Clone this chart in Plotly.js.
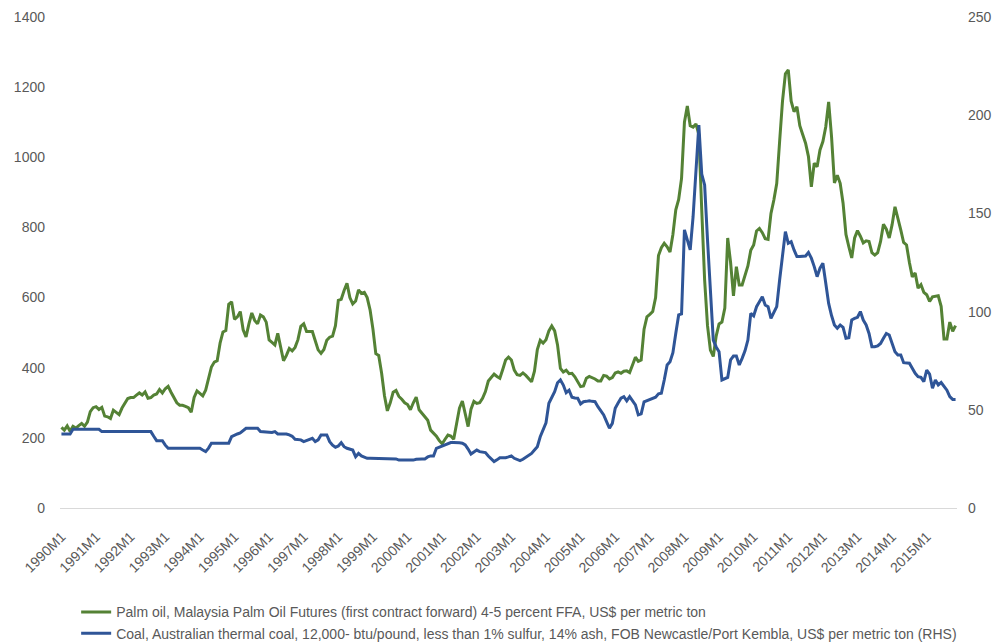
<!DOCTYPE html>
<html>
<head>
<meta charset="utf-8">
<script src="https://cdn.plot.ly/plotly-3.0.1.min.js"></script>
<style>
  html, body { margin: 0; padding: 0; background: #ffffff; }
  #chart { width: 999px; height: 643px; }
</style>
</head>
<body>
<div id="chart"></div>
<script>
// Monthly periods 1990M1 .. 2015M11
const firstYear = 1990;
const lastYear = 2015;
const lastMonth = 11;

// Palm oil, US$ per metric ton (left axis), one row per year
const palmOil = [
  230,222,234,219,233,228,235,241,233,245,275,286,   // 1990
  289,281,287,262,260,255,279,272,266,285,300,312,   // 1991
  315,315,322,328,322,331,313,315,322,325,338,328,   // 1992
  340,347,330,315,300,293,293,290,286,273,315,334,   // 1993
  328,320,336,367,402,416,420,470,502,506,581,588,   // 1994
  538,545,560,508,488,525,556,535,525,550,545,530,   // 1995
  479,472,465,498,460,420,435,455,448,458,480,518,   // 1996
  525,503,503,503,477,451,441,452,478,487,490,520,   // 1997
  592,595,620,641,600,582,590,622,612,615,600,565,   // 1998
  510,440,435,385,320,277,300,330,335,318,310,300,   // 1999
  295,280,300,316,280,270,260,250,222,214,205,192,   // 2000
  183,196,208,205,196,240,285,305,268,232,282,304,   // 2001
  298,300,313,332,362,371,382,375,370,395,422,430,   // 2002
  422,393,380,378,385,378,368,360,390,452,478,470,   // 2003
  480,505,519,505,465,398,388,393,383,384,374,360,   // 2004
  346,348,370,375,372,368,362,362,378,376,368,372,   // 2005
  385,388,384,390,391,386,408,430,418,422,510,545,   // 2006
  552,560,600,720,742,755,745,730,780,850,880,940,   // 2007
  1100,1146,1090,1086,1095,1065,850,650,520,450,432,490, // 2008
  525,530,570,770,700,605,688,636,636,660,690,735,   // 2009
  750,790,797,785,768,766,840,878,925,1045,1160,1238, // 2010
  1249,1160,1130,1144,1090,1065,1040,1002,916,983,973,1021, // 2011
  1045,1087,1158,1059,927,949,926,869,780,745,713,770, // 2012
  791,775,756,762,760,728,721,728,760,809,795,770,   // 2013
  808,859,821,793,757,750,700,659,670,627,637,615,   // 2014
  608,589,602,603,605,575,482,482,530,504,520        // 2015
];

// Coal, US$ per metric ton (right axis), one row per year
const coal = [
  37.7,37.7,37.7,37.7,40.1,40.1,40.1,40.1,40.1,40.1,40.1,40.1,   // 1990
  40.1,40.1,38.9,38.9,38.9,38.9,38.9,38.9,38.9,38.9,38.9,38.9,   // 1991
  38.9,38.9,38.9,38.9,38.9,38.9,38.9,38.9,36.5,34.3,34.3,34.3,   // 1992
  32.0,30.4,30.4,30.4,30.4,30.4,30.4,30.4,30.4,30.4,30.4,30.4,   // 1993
  30.4,29.5,28.7,30.5,33.0,33.0,33.0,33.0,33.0,33.0,33.0,36.3,   // 1994
  37.2,37.7,38.2,39.5,40.6,40.6,40.6,40.6,40.6,38.9,38.8,38.7,   // 1995
  38.6,38.5,38.9,37.7,37.7,37.7,37.7,37.2,36.5,35.0,35.0,34.7,   // 1996
  33.8,34.3,35.0,35.5,33.8,34.7,37.2,37.2,37.2,33.8,32.0,30.9,   // 1997
  31.6,33.3,31.2,30.4,30.0,29.5,26.1,27.8,26.5,26.0,25.3,25.3,   // 1998
  25.3,25.3,25.3,25.3,25.3,25.3,25.3,25.3,25.0,24.4,24.4,24.4,   // 1999
  24.4,24.4,24.4,24.8,25.0,25.0,25.0,26.0,26.5,26.5,30.4,31.0,   // 2000
  31.6,32.1,32.6,33.3,33.4,33.4,33.2,33.0,32.1,30.0,27.5,28.5,   // 2001
  29.5,28.7,28.5,28.2,26.5,24.8,23.6,24.5,25.6,25.6,25.6,26.0,   // 2002
  26.5,25.3,24.7,24.1,24.8,25.8,26.5,27.8,29.5,31.2,36.3,40.0,   // 2003
  43.4,53.3,56.0,59.2,63.8,65.2,62.6,58.7,60.0,56.4,56.0,55.9,   // 2004
  53.0,54.1,54.3,54.6,54.3,54.1,51.6,49.5,47.4,44.0,40.6,43.1,   // 2005
  50.8,53.5,55.9,56.7,54.6,56.7,54.5,52.5,47.4,47.9,54.1,54.6,   // 2006
  55.0,55.7,56.4,58.1,58.4,65.2,72.8,74.5,79.1,89.0,98.3,98.8,   // 2007
  141.6,136.5,131.4,148.3,173.8,195.0,170.0,164.5,136.5,111.0,85.5,82.0, // 2008
  79.6,65.2,65.8,66.5,75.4,77.4,77.4,72.8,76.2,80.0,85.5,99.1,   // 2009
  97.8,102.5,105.0,107.6,103.4,102.5,96.6,100.0,102.5,116.1,129.7,140.7, // 2010
  134.8,135.6,131.4,128.0,128.0,128.0,128.3,130.1,127.2,122.9,117.8,122.1, // 2011
  124.6,114.4,104.2,98.0,93.2,91.5,93.2,92.0,86.4,86.7,95.7,96.5, // 2012
  97.1,100.0,95.7,93.2,88.9,82.1,82.1,82.5,83.8,86.4,88.9,88.1,  // 2013
  83.8,79.6,77.9,77.9,74.0,73.8,73.7,71.1,68.6,66.9,66.5,64.4,   // 2014
  70.2,68.2,61.0,65.2,62.7,63.9,61.9,60.0,56.7,55.3,55.3         // 2015
];

const palmName = 'Palm oil, Malaysia Palm Oil Futures (first contract forward) 4-5 percent FFA, US$ per metric ton';
const coalName = 'Coal, Australian thermal coal, 12,000- btu/pound, less than 1% sulfur, 14% ash, FOB Newcastle/Port Kembla, US$ per metric ton (RHS)';

// Category labels
const periods = [];
for (let y = firstYear; y <= lastYear; y++) {
  const mMax = (y === lastYear) ? lastMonth : 12;
  for (let m = 1; m <= mMax; m++) periods.push(y + 'M' + m);
}
const tickLabels = periods.filter(p => /M1$/.test(p));

const txt = '#595959';
const fam = 'Liberation Sans, Arial, sans-serif';

const traces = [
  {
    x: periods, y: palmOil, name: palmName, type: 'scatter', mode: 'lines',
    line: { color: '#548235', width: 3 }, yaxis: 'y', legendgroup: 'a'
  },
  {
    x: periods, y: coal, name: coalName, type: 'scatter', mode: 'lines',
    line: { color: '#2F5597', width: 3 }, yaxis: 'y2', legendgroup: 'b'
  }
];

const layout = {
  width: 999, height: 643,
  margin: { l: 60, r: 42, t: 17, b: 135, autoexpand: false },
  paper_bgcolor: '#ffffff', plot_bgcolor: '#ffffff',
  font: { family: fam, size: 14, color: txt },
  showlegend: true,
  legend: {
    orientation: 'v', x: 0.018, xanchor: 'left', y: -0.18, yanchor: 'top',
    font: { family: fam, size: 14, color: txt },
    tracegroupgap: 0, itemwidth: 30
  },
  xaxis: {
    type: 'category', categoryorder: 'array', categoryarray: periods,
    range: [-0.5, periods.length - 0.5], automargin: false,
    tickmode: 'array', tickvals: tickLabels, ticktext: tickLabels,
    tickangle: -45, ticks: '', showgrid: false, zeroline: false,
    showline: true, linecolor: '#d9d9d9', linewidth: 1,
    tickfont: { family: fam, size: 14, color: txt },
    ticklabelstandoff: 14, fixedrange: true
  },
  yaxis: {
    range: [0, 1400], dtick: 200, tick0: 0, showgrid: false, zeroline: false,
    showline: false, ticks: '', automargin: false,
    tickfont: { family: fam, size: 14, color: txt },
    ticklabelstandoff: 14
  },
  yaxis2: {
    range: [0, 250], dtick: 50, tick0: 0, overlaying: 'y', side: 'right',
    showgrid: false, zeroline: false, showline: false, ticks: '', automargin: false,
    tickfont: { family: fam, size: 14, color: txt },
    ticklabelstandoff: 10
  }
};

Plotly.newPlot('chart', traces, layout, { displayModeBar: false, staticPlot: true });
</script>
</body>
</html>
